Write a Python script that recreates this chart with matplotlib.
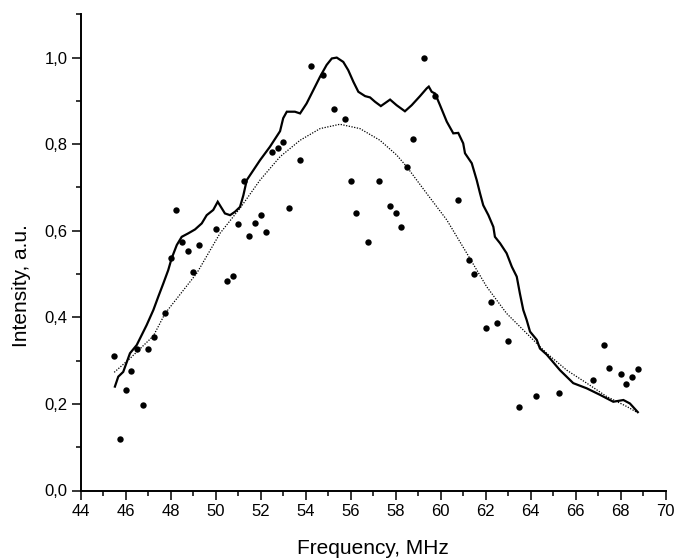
import matplotlib
matplotlib.use("Agg")
import matplotlib.pyplot as plt
from matplotlib.ticker import MultipleLocator, FuncFormatter

plt.rcParams['font.family'] = ['Liberation Sans', 'DejaVu Sans']

# measured spectrum (solid line)
spec_x = [45.52, 45.67, 45.89, 46.19, 46.49, 46.71, 46.93, 47.23, 47.45, 47.67,
          47.89, 48.04, 48.27, 48.49, 48.78, 49.08, 49.38, 49.60, 49.89, 50.09,
          50.41, 50.64, 50.86, 51.08, 51.23, 51.38, 51.97, 52.41, 52.86, 53.00,
          53.16, 53.52, 53.75, 54.04, 54.34, 54.64, 54.93, 55.16, 55.38, 55.67,
          55.89, 56.12, 56.34, 56.64, 56.86, 57.08, 57.34, 57.75, 58.04, 58.41,
          58.71, 59.08, 59.38, 59.47, 59.60, 59.75, 59.97, 60.27, 60.56, 60.78,
          61.00, 61.08, 61.38, 61.60, 61.75, 61.89, 62.12, 62.34, 62.41, 62.64,
          62.93, 63.16, 63.38, 63.52, 63.67, 63.82, 63.97, 64.27, 64.41, 64.71,
          65.30, 65.89, 66.49, 67.08, 67.67, 68.12, 68.41, 68.76]
spec_y = [0.240, 0.263, 0.274, 0.317, 0.336, 0.359, 0.382, 0.417, 0.448, 0.478,
          0.509, 0.536, 0.567, 0.586, 0.594, 0.603, 0.617, 0.636, 0.648, 0.667,
          0.640, 0.636, 0.644, 0.655, 0.682, 0.717, 0.763, 0.794, 0.830, 0.860,
          0.875, 0.875, 0.871, 0.894, 0.925, 0.956, 0.983, 0.998, 1.000, 0.990,
          0.971, 0.944, 0.921, 0.911, 0.908, 0.898, 0.888, 0.903, 0.890, 0.876,
          0.890, 0.911, 0.929, 0.933, 0.921, 0.917, 0.890, 0.852, 0.825, 0.826,
          0.802, 0.779, 0.756, 0.717, 0.686, 0.659, 0.636, 0.609, 0.586, 0.571,
          0.548, 0.517, 0.494, 0.455, 0.417, 0.394, 0.367, 0.348, 0.328, 0.314,
          0.278, 0.248, 0.236, 0.221, 0.205, 0.209, 0.201, 0.181]

# fitted curve (dotted line)
fit_x = [45.49, 46.19, 47.23, 47.75, 49.16, 50.19, 51.08, 51.97, 52.86, 53.75,
         54.64, 55.52, 56.41, 57.30, 58.04, 58.49, 59.38, 60.27, 61.16, 62.04,
         62.93, 63.82, 64.71, 65.60, 66.49, 67.38, 68.27, 68.71]
fit_y = [0.273, 0.305, 0.357, 0.409, 0.502, 0.594, 0.652, 0.717, 0.771, 0.809,
         0.836, 0.846, 0.836, 0.809, 0.775, 0.748, 0.686, 0.625, 0.548, 0.471,
         0.409, 0.363, 0.317, 0.278, 0.248, 0.217, 0.194, 0.181]

# individual measurements (dots)
pts_x = [45.50, 45.75, 46.00, 46.25, 46.50, 46.75, 47.00, 47.25, 47.75, 48.00,
         48.25, 48.50, 48.75, 49.00, 49.25, 50.00, 50.50, 50.75, 51.00, 51.25,
         51.50, 51.75, 52.00, 52.25, 52.50, 52.75, 53.00, 53.25, 53.75, 54.25,
         54.75, 55.25, 55.75, 56.00, 56.25, 56.75, 57.25, 57.75, 58.00, 58.25,
         58.50, 58.75, 59.25, 59.75, 60.75, 61.25, 61.50, 62.00, 62.25, 62.50,
         63.00, 63.50, 64.25, 65.25, 66.75, 67.25, 67.50, 68.00, 68.25, 68.50,
         68.75]
pts_y = [0.310, 0.118, 0.233, 0.275, 0.326, 0.197, 0.328, 0.355, 0.409, 0.537,
         0.648, 0.573, 0.553, 0.505, 0.566, 0.604, 0.484, 0.495, 0.615, 0.715,
         0.589, 0.619, 0.636, 0.596, 0.783, 0.792, 0.805, 0.652, 0.763, 0.980,
         0.959, 0.881, 0.858, 0.714, 0.642, 0.573, 0.714, 0.657, 0.640, 0.609,
         0.747, 0.812, 0.999, 0.912, 0.671, 0.532, 0.500, 0.375, 0.436, 0.387,
         0.345, 0.192, 0.219, 0.226, 0.255, 0.335, 0.282, 0.270, 0.247, 0.263,
         0.281]

fig = plt.figure(figsize=(6.75, 5.6), dpi=100)
ax = fig.add_axes([80.7 / 675, 1 - 490.5 / 560, (665.7 - 80.7) / 675, (490.5 - 14.3) / 560])

ax.plot(spec_x, spec_y, color='black', lw=1.6, solid_joinstyle='miter')
ax.plot(fit_x, fit_y, color='black', lw=0.9, linestyle=(0, (1, 1.2)))
ax.plot(pts_x, pts_y, 'o', color='black', markersize=4.6, markeredgewidth=0)

ax.set_xlim(44, 70)
ax.set_ylim(0, 1.1)
ax.xaxis.set_major_locator(MultipleLocator(2))
ax.xaxis.set_minor_locator(MultipleLocator(1))
ax.yaxis.set_major_locator(MultipleLocator(0.2))
ax.yaxis.set_minor_locator(MultipleLocator(0.1))
ax.yaxis.set_major_formatter(FuncFormatter(lambda v, p: f"{v:.1f}".replace('.', ',')))

for s in ['top', 'right']:
    ax.spines[s].set_visible(False)
for s in ['left', 'bottom']:
    ax.spines[s].set_linewidth(1.4)
ax.tick_params(which='major', direction='out', length=6.5, width=1.1, labelsize=12, pad=3)
ax.tick_params(which='minor', direction='out', length=3.5, width=1.1)

fig.text(373 / 675, 1 - 548 / 560, 'Frequency, MHz', ha='center', va='center', fontsize=15)
fig.text(22 / 675, 1 - 286 / 560, 'Intensity, a.u.', ha='center', va='center', rotation=90, fontsize=15)

fig.savefig('out.png', dpi=100)
